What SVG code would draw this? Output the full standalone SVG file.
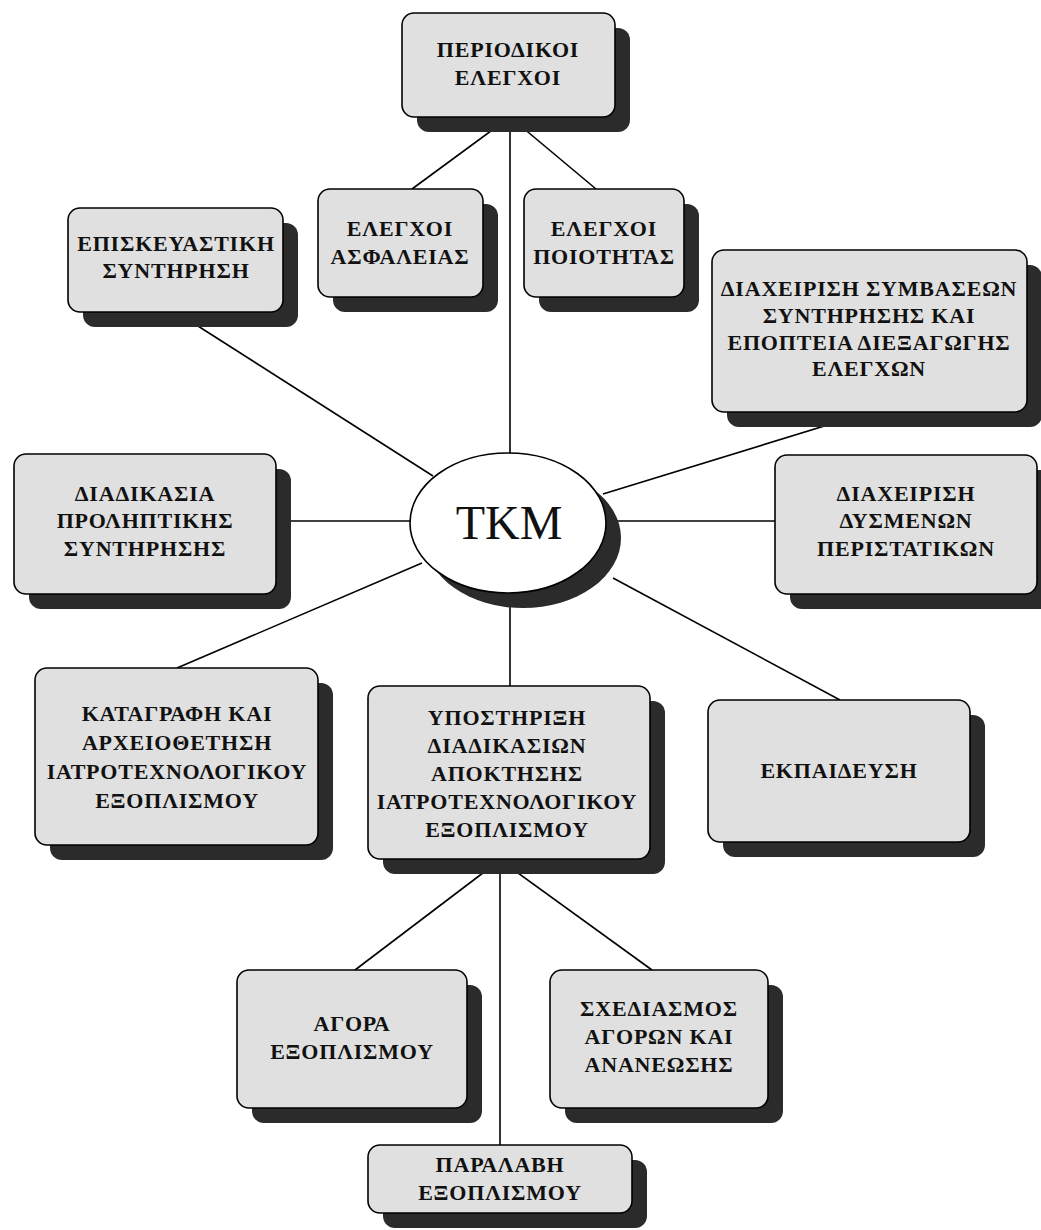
<svg xmlns="http://www.w3.org/2000/svg" width="1041" height="1230" viewBox="0 0 1041 1230">
  <style>
    .bg { fill: #ffffff; }
    .link { stroke: #000000; stroke-width: 1.6; fill: none; }
    .shadow { fill: #2b2b2b; }
    .box { fill: #e0e0e0; stroke: #000000; stroke-width: 1.6; }
    .hub { fill: #ffffff; stroke: #000000; stroke-width: 1.6; }
    .label { font-family: "Liberation Serif", "DejaVu Serif", serif; font-weight: bold; font-size: 22px; letter-spacing: 0.8px; text-anchor: middle; fill: #111111; }
    .hub-label { font-family: "Liberation Serif", "DejaVu Serif", serif; font-size: 48px; text-anchor: middle; fill: #111111; }
  </style>

  <rect class="bg" x="0" y="0" width="1041" height="1230"/>

  <!-- connectors -->
  <g id="connectors">
    <line class="link" x1="510" y1="117" x2="412" y2="189"/>
    <line class="link" x1="510" y1="117" x2="596" y2="189"/>
    <line class="link" x1="510" y1="117" x2="510" y2="455"/>
    <line class="link" x1="176" y1="312" x2="433" y2="476"/>
    <line class="link" x1="870" y1="412" x2="603" y2="494"/>
    <line class="link" x1="276" y1="521" x2="411" y2="521"/>
    <line class="link" x1="605" y1="521" x2="775" y2="521"/>
    <line class="link" x1="422" y1="563" x2="177" y2="668"/>
    <line class="link" x1="510" y1="590" x2="510" y2="686"/>
    <line class="link" x1="613" y1="578" x2="840" y2="700"/>
    <line class="link" x1="500" y1="860" x2="355" y2="970"/>
    <line class="link" x1="500" y1="860" x2="652" y2="970"/>
    <line class="link" x1="500" y1="860" x2="500" y2="1145"/>
  </g>

  <g id="periodic-checks">
    <rect class="shadow" x="417" y="28" width="213" height="104" rx="12"/>
    <rect class="box" x="402" y="13" width="213" height="104" rx="12"/>
    <text class="label" x="508" y="57">ΠΕΡΙΟΔΙΚΟΙ</text>
    <text class="label" x="508" y="85">ΕΛΕΓΧΟΙ</text>
  </g>

  <g id="safety-checks">
    <rect class="shadow" x="333" y="204" width="165" height="108" rx="12"/>
    <rect class="box" x="318" y="189" width="165" height="108" rx="12"/>
    <text class="label" x="400" y="236">ΕΛΕΓΧΟΙ</text>
    <text class="label" x="400" y="264">ΑΣΦΑΛΕΙΑΣ</text>
  </g>

  <g id="quality-checks">
    <rect class="shadow" x="539" y="204" width="160" height="108" rx="12"/>
    <rect class="box" x="524" y="189" width="160" height="108" rx="12"/>
    <text class="label" x="604" y="236">ΕΛΕΓΧΟΙ</text>
    <text class="label" x="604" y="264">ΠΟΙΟΤΗΤΑΣ</text>
  </g>

  <g id="corrective-maintenance">
    <rect class="shadow" x="83" y="223" width="215" height="104" rx="12"/>
    <rect class="box" x="68" y="208" width="215" height="104" rx="12"/>
    <text class="label" x="176" y="251">ΕΠΙΣΚΕΥΑΣΤΙΚΗ</text>
    <text class="label" x="176" y="278">ΣΥΝΤΗΡΗΣΗ</text>
  </g>

  <g id="contract-management">
    <rect class="shadow" x="727" y="265" width="315" height="162" rx="12"/>
    <rect class="box" x="712" y="250" width="315" height="162" rx="12"/>
    <text class="label" x="869" y="296">ΔΙΑΧΕΙΡΙΣΗ ΣΥΜΒΑΣΕΩΝ</text>
    <text class="label" x="869" y="323">ΣΥΝΤΗΡΗΣΗΣ ΚΑΙ</text>
    <text class="label" x="869" y="350">ΕΠΟΠΤΕΙΑ ΔΙΕΞΑΓΩΓΗΣ</text>
    <text class="label" x="869" y="376">ΕΛΕΓΧΩΝ</text>
  </g>

  <g id="preventive-maintenance">
    <rect class="shadow" x="29" y="469" width="262" height="140" rx="12"/>
    <rect class="box" x="14" y="454" width="262" height="140" rx="12"/>
    <text class="label" x="145" y="501">ΔΙΑΔΙΚΑΣΙΑ</text>
    <text class="label" x="145" y="528">ΠΡΟΛΗΠΤΙΚΗΣ</text>
    <text class="label" x="145" y="556">ΣΥΝΤΗΡΗΣΗΣ</text>
  </g>

  <g id="tkm">
    <ellipse class="shadow" cx="523" cy="538" rx="98" ry="70"/>
    <ellipse class="hub" cx="508" cy="523" rx="98" ry="70"/>
    <text class="hub-label" x="509" y="539">TKM</text>
  </g>

  <g id="adverse-incidents">
    <rect class="shadow" x="790" y="470" width="262" height="139" rx="12"/>
    <rect class="box" x="775" y="455" width="262" height="139" rx="12"/>
    <text class="label" x="906" y="501">ΔΙΑΧΕΙΡΙΣΗ</text>
    <text class="label" x="906" y="528">ΔΥΣΜΕΝΩΝ</text>
    <text class="label" x="906" y="556">ΠΕΡΙΣΤΑΤΙΚΩΝ</text>
  </g>

  <g id="inventory">
    <rect class="shadow" x="50" y="683" width="283" height="177" rx="12"/>
    <rect class="box" x="35" y="668" width="283" height="177" rx="12"/>
    <text class="label" x="177" y="721">ΚΑΤΑΓΡΑΦΗ ΚΑΙ</text>
    <text class="label" x="177" y="750">ΑΡΧΕΙΟΘΕΤΗΣΗ</text>
    <text class="label" x="177" y="779">ΙΑΤΡΟΤΕΧΝΟΛΟΓΙΚΟΥ</text>
    <text class="label" x="177" y="808">ΕΞΟΠΛΙΣΜΟΥ</text>
  </g>

  <g id="acquisition-support">
    <rect class="shadow" x="383" y="701" width="282" height="173" rx="12"/>
    <rect class="box" x="368" y="686" width="282" height="173" rx="12"/>
    <text class="label" x="507" y="725">ΥΠΟΣΤΗΡΙΞΗ</text>
    <text class="label" x="507" y="753">ΔΙΑΔΙΚΑΣΙΩΝ</text>
    <text class="label" x="507" y="781">ΑΠΟΚΤΗΣΗΣ</text>
    <text class="label" x="507" y="809">ΙΑΤΡΟΤΕΧΝΟΛΟΓΙΚΟΥ</text>
    <text class="label" x="507" y="837">ΕΞΟΠΛΙΣΜΟΥ</text>
  </g>

  <g id="training">
    <rect class="shadow" x="723" y="715" width="262" height="142" rx="12"/>
    <rect class="box" x="708" y="700" width="262" height="142" rx="12"/>
    <text class="label" x="839" y="778">ΕΚΠΑΙΔΕΥΣΗ</text>
  </g>

  <g id="purchase">
    <rect class="shadow" x="252" y="985" width="230" height="138" rx="12"/>
    <rect class="box" x="237" y="970" width="230" height="138" rx="12"/>
    <text class="label" x="352" y="1031">ΑΓΟΡΑ</text>
    <text class="label" x="352" y="1059">ΕΞΟΠΛΙΣΜΟΥ</text>
  </g>

  <g id="planning">
    <rect class="shadow" x="565" y="985" width="218" height="138" rx="12"/>
    <rect class="box" x="550" y="970" width="218" height="138" rx="12"/>
    <text class="label" x="659" y="1016">ΣΧΕΔΙΑΣΜΟΣ</text>
    <text class="label" x="659" y="1044">ΑΓΟΡΩΝ ΚΑΙ</text>
    <text class="label" x="659" y="1072">ΑΝΑΝΕΩΣΗΣ</text>
  </g>

  <g id="acceptance">
    <rect class="shadow" x="383" y="1160" width="264" height="68" rx="12"/>
    <rect class="box" x="368" y="1145" width="264" height="68" rx="12"/>
    <text class="label" x="500" y="1172">ΠΑΡΑΛΑΒΗ</text>
    <text class="label" x="500" y="1200">ΕΞΟΠΛΙΣΜΟΥ</text>
  </g>
</svg>
